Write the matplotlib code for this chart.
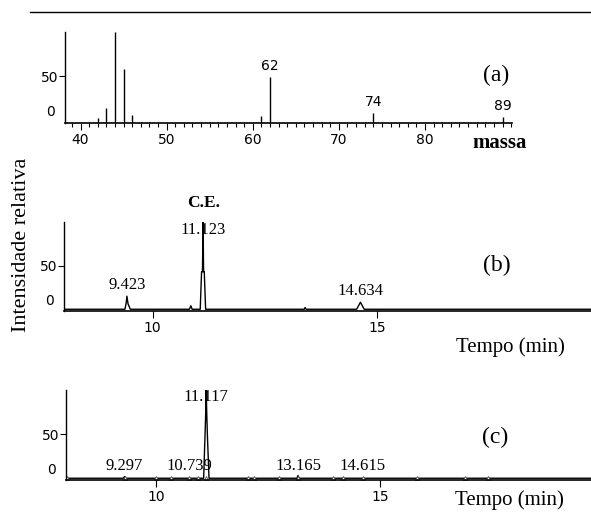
import matplotlib.pyplot as plt
from matplotlib.lines import Line2D

# (a) mass spectrum
mz = [42, 43, 44, 45, 46, 61, 62, 74, 89]
abund = [2.3, 13.6, 100, 58, 5.7, 4.5, 49, 8, 3.4]
mz_labels = [62, 74, 89]

# (b) chromatogram
time_b = [8.02, 9.38, 9.41, 9.423, 9.45, 9.50, 10.82, 10.85, 10.88, 11.06, 11.09,
          11.11, 11.123, 11.135, 11.15, 11.18, 13.38, 13.40, 13.42, 14.55, 14.634,
          14.72, 19.78]
int_b = [0, 0, 8, 15, 6, 0, 0, 4, 0, 0, 43, 43, 100, 43, 43, 0, 0, 2, 0, 0, 8, 0, 0]
peaks_b = [(9.423, 15, "9.423"), (11.123, 100, "11.123"), (14.634, 8, "14.634")]

# (c) chromatogram
time_c = [7.99, 9.27, 9.297, 9.32, 11.06, 11.09, 11.105, 11.117, 11.13, 11.145,
          11.18, 13.14, 13.165, 13.19, 19.7]
int_c = [0, 0, 2, 0, 0, 47, 72, 100, 72, 47, 0, 0, 3, 0, 0]
marks_c = [8.02, 9.297, 10.0, 10.34, 10.739, 10.93, 11.117, 12.05, 12.19, 12.75,
           13.165, 13.95, 14.17, 14.615, 15.83, 16.88, 17.41]
peaks_c = [(9.297, "9.297"), (10.739, "10.739"), (13.165, "13.165"), (14.615, "14.615")]

W, H = 591, 513
fig = plt.figure(figsize=(W / 100, H / 100), dpi=100)

serif = ['Liberation Serif', 'DejaVu Serif']
narrow = ['Liberation Sans Narrow', 'DejaVu Sans']


def box(l, t, r, b):
    return [l / W, 1 - b / H, (r - l) / W, (b - t) / H]


def style(ax):
    for s in ['top', 'right']:
        ax.spines[s].set_visible(False)
    ax.spines['left'].set_linewidth(1)
    ax.spines['bottom'].set_linewidth(1.2)
    ax.set_yticks([50])
    ax.tick_params(axis='y', length=4, width=0.8, pad=1)
    ax.tick_params(axis='x', length=5, width=0.8, pad=2)
    for lab in ax.get_xticklabels() + ax.get_yticklabels():
        lab.set_family(narrow)
        lab.set_fontsize(10)
    ax.annotate("0", xy=(0, 0), xycoords=('axes fraction', 'data'),
                xytext=(-7, 6), textcoords='offset points', ha='right',
                va='center', family=narrow, fontsize=10)


# top rule
fig.add_artist(Line2D([30 / W, 1], [1 - 12 / H] * 2, color='black', lw=1))

# ---- (a)
ax = fig.add_axes(box(65, 32, 512, 123))
ax.vlines(mz, -3.4, abund, color='black', lw=1)
ax.set_xlim(38.2, 90.1)
ax.set_ylim(-3.4, 100)
ax.set_xticks([40, 50, 60, 70, 80])
ax.set_xticks(range(39, 91), minor=True)
ax.tick_params(axis='x', which='minor', length=3, width=0.8)
style(ax)
for m in mz_labels:
    ax.annotate(str(m), xy=(m, abund[mz.index(m)]), xytext=(0, 3),
                textcoords='offset points', ha='center', va='bottom',
                family=narrow, fontsize=10)
fig.text(496 / W, 1 - 75 / H, "(a)", family=serif, fontsize=17, ha='center', va='center')
fig.text(500 / W, 1 - 143 / H, "massa", family=serif, fontsize=15, weight='bold',
         ha='center', va='center')

# ---- (b)
ax = fig.add_axes(box(64, 222, 591, 311))
ax.plot(time_b, int_b, color='black', lw=1)
ax.set_xlim(8.02, 19.78)
ax.set_ylim(-2, 100)
ax.set_xticks([10, 15])
style(ax)
for t, h, s in peaks_b:
    yoff = -6 if h == 100 else 2
    ax.annotate(s, xy=(t, h), xytext=(0, yoff), textcoords='offset points',
                ha='center', va='bottom' if h < 100 else 'center',
                family=serif, fontsize=12)
fig.text(204 / W, 1 - 203 / H, "C.E.", family=serif, fontsize=12.5, weight='bold',
         ha='center', va='center')
fig.text(497 / W, 1 - 265 / H, "(b)", family=serif, fontsize=17, ha='center', va='center')
fig.text(510 / W, 1 - 347 / H, "Tempo (min)", family=serif, fontsize=15,
         ha='center', va='center')

# ---- (c)
ax = fig.add_axes(box(66, 390, 591, 480))
ax.plot(time_c, int_c, color='black', lw=1)
ax.plot(marks_c, [0] * len(marks_c), ls='none', marker='^', ms=3, mfc='white',
        mec='#555555', mew=0.6)
ax.set_xlim(7.99, 19.7)
ax.set_ylim(-2, 100)
ax.set_xticks([10, 15])
style(ax)
for t, s in peaks_c:
    ax.annotate(s, xy=(t, 0), xytext=(0, 3), textcoords='offset points',
                ha='center', va='bottom', family=serif, fontsize=12)
ax.annotate("11.117", xy=(11.117, 100), xytext=(0, -5), textcoords='offset points',
            ha='center', va='center', family=serif, fontsize=12)
fig.text(495 / W, 1 - 437 / H, "(c)", family=serif, fontsize=17, ha='center', va='center')
fig.text(509 / W, 1 - 500 / H, "Tempo (min)", family=serif, fontsize=15,
         ha='center', va='center')

fig.text(22 / W, 1 - 245 / H, "Intensidade relativa", family=serif, fontsize=16,
         rotation=90, ha='center', va='center')

fig.savefig("out.png", dpi=100)
